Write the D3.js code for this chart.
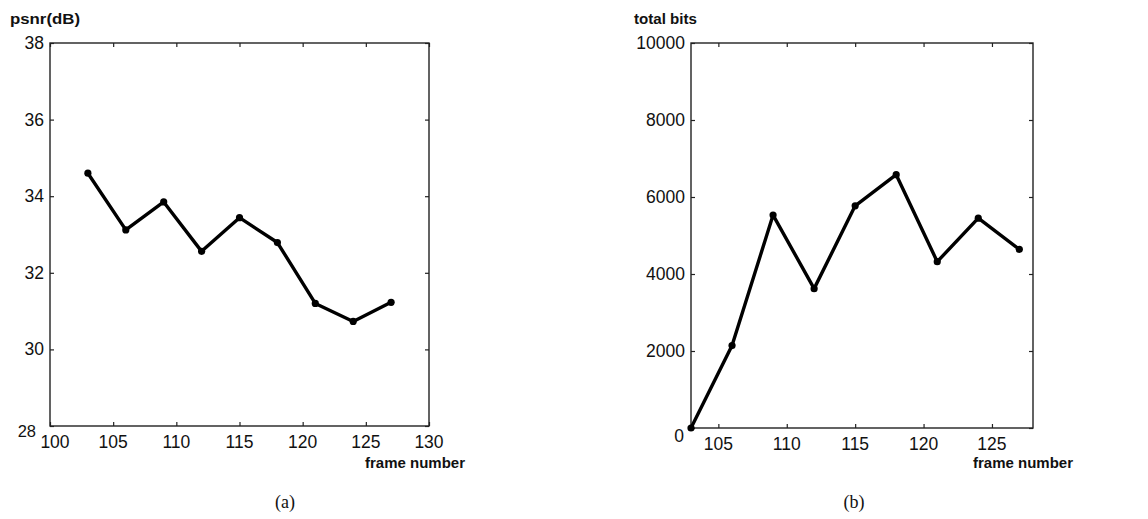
<!DOCTYPE html>
<html>
<head>
<meta charset="utf-8">
<script src="https://cdn.jsdelivr.net/npm/d3@7"></script>
<style>
  body { margin: 0; background: #fff; }
  svg { display: block; }
  text { font-family: "Liberation Sans", Arial, sans-serif; fill: #111; }
  .axis-title { font-weight: bold; font-size: 15px; }
  .tick-label { font-size: 17.5px; }
  .caption { font-family: "Liberation Serif", "Times New Roman", serif; font-size: 18px; }
</style>
</head>
<body>
<svg id="chart" width="1148" height="519"></svg>
<script>
// frame numbers shared by both panels
const frames = [103, 106, 109, 112, 115, 118, 121, 124, 127];

// (a) psnr per frame
const psnr = [34.6, 33.12, 33.85, 32.56, 33.44, 32.79, 31.2, 30.73, 31.23];
const psnrXTicks = [100, 105, 110, 115, 120, 125, 130];
const psnrYTicks = [28, 30, 32, 34, 36, 38];

// (b) total bits per frame
const bits = [0, 2140, 5530, 3620, 5770, 6580, 4320, 5450, 4640];
const bitsXTicks = [105, 110, 115, 120, 125];
const bitsYTicks = [0, 2000, 4000, 6000, 8000, 10000];

const svg = d3.select('#chart');
const tickLen = 4;

function drawPanel(opt) {
  const g = svg.append('g');
  const x = d3.scaleLinear().domain(opt.xDomain).range([opt.left, opt.right]);
  const y = d3.scaleLinear().domain(opt.yDomain).range([opt.bottom, opt.top]);

  // inward ticks on all four sides
  g.append('g')
    .attr('transform', 'translate(0,' + opt.bottom + ')')
    .call(d3.axisBottom(x).tickValues(opt.xTicks).tickSizeInner(-tickLen).tickSizeOuter(0).tickFormat(''));
  g.append('g')
    .attr('transform', 'translate(0,' + opt.top + ')')
    .call(d3.axisTop(x).tickValues(opt.xTicks).tickSizeInner(-tickLen).tickSizeOuter(0).tickFormat(''));
  g.append('g')
    .attr('transform', 'translate(' + opt.left + ',0)')
    .call(d3.axisLeft(y).tickValues(opt.yTicks).tickSizeInner(-tickLen).tickSizeOuter(0).tickFormat(''));
  g.append('g')
    .attr('transform', 'translate(' + opt.right + ',0)')
    .call(d3.axisRight(y).tickValues(opt.yTicks).tickSizeInner(-tickLen).tickSizeOuter(0).tickFormat(''));
  g.selectAll('.domain').remove();
  g.selectAll('.tick line').attr('stroke', '#222').attr('stroke-width', 1.2);

  // frame box
  g.append('rect')
    .attr('x', opt.left)
    .attr('y', opt.top)
    .attr('width', opt.right - opt.left)
    .attr('height', opt.bottom - opt.top)
    .attr('fill', 'none')
    .attr('stroke', '#222')
    .attr('stroke-width', 1.4);

  // tick labels
  g.selectAll('.xlab')
    .data(opt.xTicks)
    .enter().append('text')
    .attr('class', 'tick-label')
    .attr('x', d => x(d) + (d === opt.xDomain[0] ? 5 : 0))
    .attr('y', opt.bottom + 22)
    .attr('text-anchor', 'middle')
    .text(d => d);

  g.selectAll('.ylab')
    .data(opt.yTicks)
    .enter().append('text')
    .attr('class', 'tick-label')
    .attr('x', d => opt.left - 6 - (d === opt.yDomain[0] ? opt.lowDx : 0))
    .attr('y', d => y(d) + 6 + (d === opt.yDomain[0] ? opt.lowShift : 0))
    .attr('text-anchor', 'end')
    .style('font-size', d => d === opt.yDomain[0] ? opt.lowSize : null)
    .text(d => d);

  // titles
  g.append('text')
    .attr('class', 'axis-title')
    .attr('x', opt.yTitleX)
    .attr('y', 24)
    .attr('textLength', opt.yTitleLen)
    .attr('lengthAdjust', 'spacingAndGlyphs')
    .text(opt.yTitle);
  g.append('text')
    .attr('class', 'axis-title')
    .attr('x', opt.xTitleX)
    .attr('y', 468)
    .text('frame number');
  g.append('text')
    .attr('class', 'caption')
    .attr('x', opt.captionX)
    .attr('y', 508)
    .attr('text-anchor', 'middle')
    .text(opt.caption);

  // data line and markers
  const pts = frames.map((f, i) => [f, opt.values[i]]);
  g.append('path')
    .datum(pts)
    .attr('fill', 'none')
    .attr('stroke', '#000')
    .attr('stroke-width', 3.4)
    .attr('stroke-linejoin', 'round')
    .attr('d', d3.line().x(d => x(d[0])).y(d => y(d[1])));
  g.selectAll('.dot')
    .data(pts)
    .enter().append('circle')
    .attr('cx', d => x(d[0]))
    .attr('cy', d => y(d[1]))
    .attr('r', 3.6)
    .attr('fill', '#000');
}

drawPanel({
  xDomain: [100, 130], yDomain: [28, 38],
  left: 50, right: 429, top: 43, bottom: 426,
  xTicks: psnrXTicks, yTicks: psnrYTicks, values: psnr,
  yTitle: 'psnr(dB)', yTitleX: 10, yTitleLen: 70, xTitleX: 365,
  caption: '(a)', captionX: 285, lowShift: 5, lowDx: 8, lowSize: '16.5px'
});

drawPanel({
  xDomain: [103, 128], yDomain: [0, 10000],
  left: 691, right: 1033, top: 43, bottom: 428,
  xTicks: bitsXTicks, yTicks: bitsYTicks, values: bits,
  yTitle: 'total bits', yTitleX: 634, yTitleLen: 63, xTitleX: 973,
  caption: '(b)', captionX: 854, lowShift: 8, lowDx: 1, lowSize: null
});
</script>
</body>
</html>
